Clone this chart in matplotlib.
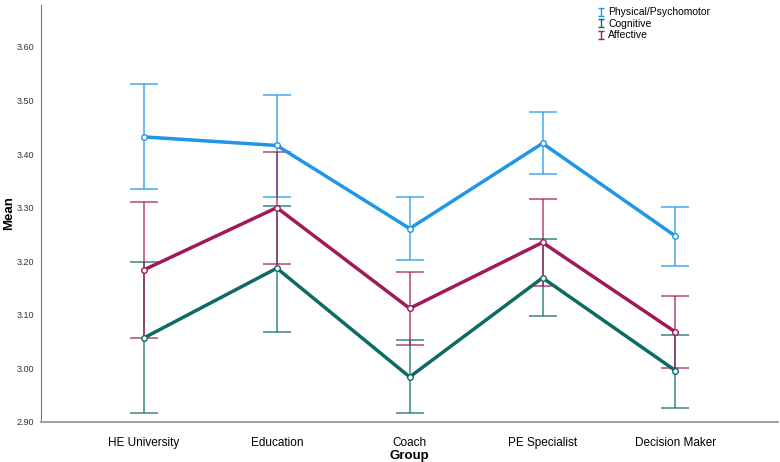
import matplotlib
matplotlib.use("Agg")
import matplotlib.pyplot as plt
from matplotlib.lines import Line2D
from matplotlib.path import Path

plt.rcParams['font.family'] = ['Liberation Sans', 'DejaVu Sans']

groups = ["HE University", "Education", "Coach", "PE Specialist", "Decision Maker"]

# means and error bar ends (lower, upper)
phys_mean = [3.432, 3.416, 3.261, 3.420, 3.247]
phys_low = [3.334, 3.320, 3.203, 3.362, 3.192]
phys_high = [3.530, 3.510, 3.320, 3.478, 3.301]

cog_mean = [3.057, 3.187, 2.984, 3.169, 2.996]
cog_low = [2.917, 3.068, 2.917, 3.097, 2.926]
cog_high = [3.198, 3.303, 3.053, 3.242, 3.063]

aff_mean = [3.184, 3.300, 3.112, 3.235, 3.068]
aff_low = [3.057, 3.195, 3.043, 3.154, 3.001]
aff_high = [3.311, 3.404, 3.180, 3.316, 3.136]

series = [
    ("Physical/Psychomotor", phys_mean, phys_low, phys_high, "#1f96e6"),
    ("Cognitive", cog_mean, cog_low, cog_high, "#0d6b63"),
    ("Affective", aff_mean, aff_low, aff_high, "#a01a58"),
]

# little I-beam symbol for the legend
ibeam = Path([(-0.7, 1), (0.7, 1), (0, 1), (0, -1), (-0.7, -1), (0.7, -1)],
             [Path.MOVETO, Path.LINETO, Path.MOVETO, Path.LINETO, Path.MOVETO, Path.LINETO])

fig = plt.figure(figsize=(7.8, 4.62), dpi=100)
ax = fig.add_axes([0.0526, 0.0866, 0.9444, 0.9024])

x = list(range(len(groups)))
handles = []
for name, m, lo, hi, col in series:
    yerr = [[a - b for a, b in zip(m, lo)], [b - a for a, b in zip(m, hi)]]
    ax.errorbar(x, m, yerr=yerr, fmt="none", ecolor=col, elinewidth=1.2,
                capsize=10, capthick=1.2, alpha=0.75, zorder=2)
    ax.plot(x, m, color=col, linewidth=2.5, zorder=3)
    ax.plot(x, m, "o", color=col, markerfacecolor="white", markersize=4,
            markeredgewidth=1, zorder=4)
    handles.append(Line2D([], [], linestyle="none", marker=ibeam, color=col,
                          markerfacecolor="none", markeredgewidth=1.0,
                          markersize=6, label=name))

ax.set_xlim(-0.775, 4.77)
ax.set_ylim(2.90, 3.678)
ax.set_xticks(x)
ax.set_xticklabels(groups, fontsize=8.5)
ax.set_yticks([2.9, 3.0, 3.1, 3.2, 3.3, 3.4, 3.5, 3.6])
ax.set_yticklabels(["2.90", "3.00", "3.10", "3.20", "3.30", "3.40", "3.50", "3.60"],
                   fontsize=6.5, color="#333333")
ax.tick_params(axis="y", length=0, pad=5)
ax.tick_params(axis="x", length=0, pad=11)
for s in ["top", "right"]:
    ax.spines[s].set_visible(False)
ax.spines["left"].set_color("#777777")
ax.spines["bottom"].set_color("#999999")
ax.spines["bottom"].set_linewidth(1.3)

ax.set_xlabel("Group", fontsize=9.5, fontweight="bold", va="center")
ax.xaxis.set_label_coords(0.4998, -0.082)
ax.set_ylabel("Mean", fontsize=9.5, fontweight="bold", va="center")
ax.yaxis.set_label_coords(-0.043, 0.5)

fig.legend(handles=handles, loc="upper left", bbox_to_anchor=(0.757, 1.0),
           frameon=False, fontsize=7.5, handlelength=0.6, handletextpad=0.4,
           labelspacing=0.15, borderpad=0.2)

fig.savefig("out.png", dpi=100)
